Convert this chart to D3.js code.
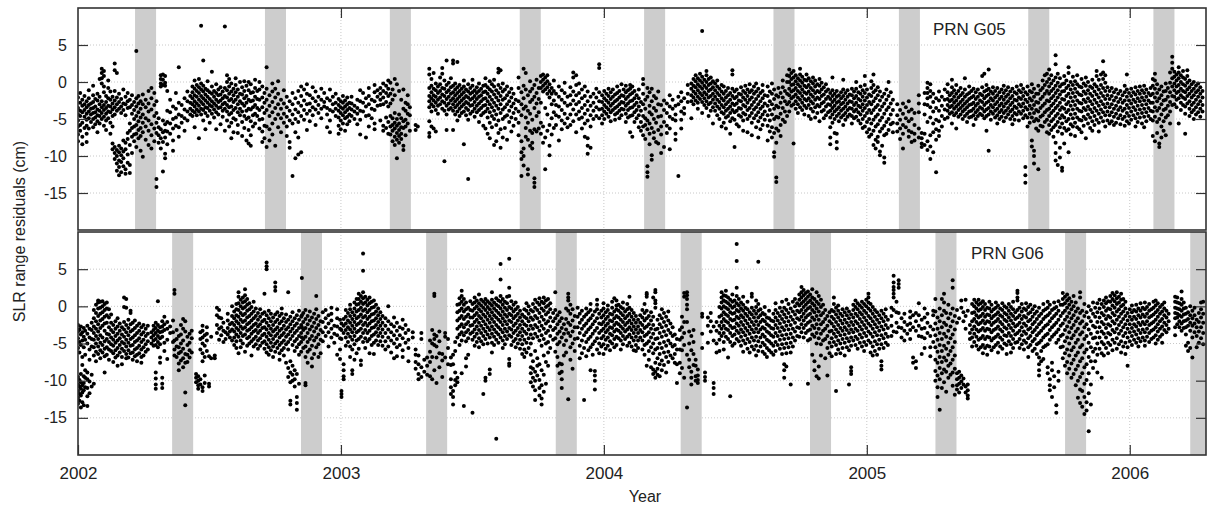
<!DOCTYPE html>
<html>
<head>
<meta charset="utf-8">
<script src="https://cdn.jsdelivr.net/npm/d3@7"></script>
<style>
  body { margin: 0; background: #fff; }
  text { font-family: "Liberation Sans", Arial, Helvetica, sans-serif; fill: #222; }
</style>
</head>
<body>
<svg id="chart" width="1209" height="506"></svg>
<script>
// Axis ticks
const yearTicks = [2002, 2003, 2004, 2005, 2006];
const residualTicks = [5, 0, -5, -10, -15];

// Eclipse seasons (start, decimal year); each lasts ~29 days
const eclipseLength = 0.08;
const g05Eclipses = [2002.217, 2002.711, 2003.186, 2003.680, 2004.153, 2004.645, 2005.122, 2005.614, 2006.090];
const g06Eclipses = [2002.358, 2002.848, 2003.324, 2003.817, 2004.292, 2004.784, 2005.261, 2005.754, 2006.230];

// SLR residuals (cm), grouped by day since 2002-01-01: "day:r1 r2 ..."
const g05Passes = [
"0:-2.1 -3.5 -4.4 -5.2 -6.0 -7.1 -8.0","3:-1.5 -2.8 -3.9 -4.6 -5.8 -6.6","6:-2.4 -3.2 -4.1 -5.5 -7.4 -8.4","9:-1.9 -3.0 -3.8 -4.7 -6.2",
"12:-2.6 -3.4 -4.3 -5.1 -5.9 -7.0 -8.1","15:-1.1 -2.2 -3.1 -4.0 -4.9 -6.3","18:-2.9 -3.6 -4.4 -5.4","21:-0.5 -1.8 -2.7 -3.5 -4.2 -5.0 -6.1",
"24:-2.3 -3.3 -4.1 -4.8 -5.7","27:-1.6 -2.5 -3.7 -4.5 -5.3 -6.8","30:0.4 -2.0 -3.0 -3.9 -4.6 -5.6","33:1.8 1.2 0.5 -0.2 -2.6 -3.4 -4.2 -5.0",
"36:1.5 0.8 -0.6 -1.4 -3.1 -3.8 -4.7 -5.9","39:-1.9 -2.7 -3.5 -4.3 -5.2 -6.5","42:0.2 -0.8 -2.2 -3.2 -4.0 -4.9","45:-1.3 -2.4 -3.3 -4.1 -5.5 -7.0",
"48:-2.0 -2.9 -3.7 -4.6 -6.0 -8.3 -9.1","51:2.5 1.6 -1.2 -2.5 -3.4 -4.4 -8.8 -9.6 -10.4","54:1.2 -2.1 -3.0 -3.9 -9.2 -10.0 -11.0 -12.0",
"57:-1.6 -2.7 -3.6 -8.6 -9.5 -10.6 -11.5 -12.6","60:-2.3 -3.3 -4.2 -9.0 -9.9 -10.8 -12.2","63:-1.0 -2.9 -3.8 -7.9 -9.4 -10.3 -11.4",
"66:-2.0 -3.0 -4.5 -8.2 -9.1 -11.8 -12.4","69:-1.5 -2.6 -3.5 -6.9 -7.7 -9.8 -10.9","72:-2.4 -3.4 -5.6 -6.6 -8.5 -11.2 -12.3","75:-1.8 -3.1 -4.3 -6.2 -7.4 -9.6",
"78:-2.7 -3.8 -5.0 -6.0 -7.1 -8.0","81:4.2 -2.2 -3.3 -4.6 -5.8 -7.0 -8.8","84:-1.9 -2.9 -4.1 -5.3 -6.5 -7.6","87:-2.6 -3.6 -4.8 -6.2 -7.3 -9.3",
"90:-1.7 -3.0 -4.4 -5.5 -6.8 -10.1","94:-2.4 -3.4 -4.9 -6.0 -7.8","98:-1.2 -2.9 -4.0 -5.2 -6.6 -8.5","102:-0.8 -2.2 -3.7 -5.7 -7.2 -9.0",
"106:-1.5 -3.1 -4.6 -6.3 -8.0","109:-13.1 -14.2 -2.6 -4.2 -5.5 -6.9","112:-4.9 -6.1 -7.2 -8.2","115:0.9 0.4 -0.2 -0.6 -6.4 -7.6 -9.0",
"118:1.0 0.3 -0.4 -5.2 -6.8 -8.1 -12.1","121:0.8 -0.1 -0.5 -5.7 -6.6 -7.5 -9.7 -10.3","124:-1.2 -3.9 -5.4 -6.7 -8.4","128:-2.4 -4.1 -5.6 -7.0",
"132:-3.3 -5.0 -6.3 -7.9 -9.3","136:-1.5 -3.6 -4.8 -5.9","140:2.0 -2.8 -4.4 -6.1 -7.4","144:-3.1 -4.6 -5.5","148:-2.2 -3.7 -4.9 -6.6",
"152:-1.3 -2.6 -4.0 -5.2","156:-1.9 -2.8 -3.6 -4.4","159:-0.6 -1.4 -2.2 -3.0 -3.9 -4.6","162:0.2 -0.9 -1.8 -2.6 -3.3 -4.1 -6.1",
"165:-0.4 -1.2 -2.0 -2.9 -3.7 -4.5","168:0.4 -0.7 -1.5 -2.4 -3.2 -4.0 -7.6","171:7.6 -0.2 -1.0 -1.9 -2.7 -3.6 -4.4","174:2.9 -0.5 -1.3 -2.2 -3.0 -3.8 -5.2",
"177:-0.9 -1.7 -2.5 -3.4 -4.2 -6.4","180:0.1 -1.1 -2.0 -2.8 -3.5 -4.6","183:-1.4 -2.3 -3.1 -3.9 -5.5","186:1.4 -0.6 -1.6 -2.6 -3.3 -4.3",
"189:-1.2 -2.0 -2.9 -3.7 -4.8","192:-0.3 -1.5 -2.4 -3.2 -4.1 -6.4","195:-1.0 -1.8 -2.7 -3.5 -4.4","198:-0.7 -1.7 -2.5 -3.4 -5.7",
"201:-1.3 -2.2 -3.0 -3.9 -4.7","204:7.5 -0.8 -1.9 -2.8 -3.6 -6.6","207:0.9 0.0 -1.1 -2.1 -3.1 -4.0 -5.2","210:0.4 -0.6 -1.6 -2.5 -3.4 -4.4 -6.0",
"213:-0.2 -1.3 -2.3 -3.3 -4.2 -5.5 -7.6","216:-0.9 -1.8 -2.7 -3.8 -4.9 -6.8","219:0.5 -0.4 -1.4 -2.4 -3.5 -5.1","222:-1.0 -2.0 -3.0 -4.1 -5.8 -6.9",
"225:0.0 -1.6 -2.6 -3.6 -4.5","228:-0.7 -1.7 -2.9 -4.0 -5.4 -7.3","231:0.1 -1.2 -2.2 -3.2 -4.6 -6.2","234:-0.5 -1.9 -2.8 -3.9 -5.0 -7.9",
"237:0.0 -1.1 -2.4 -3.6 -4.8 -6.5 -8.3","240:-0.3 -1.5 -2.6 -3.7 -5.3 -7.2 -8.6","243:-1.4 -2.5 -3.4 -4.5 -6.0","246:0.3 -0.8 -2.0 -3.1 -4.3 -5.6",
"249:-1.2 -2.3 -3.5 -4.6","252:0.0 -1.0 -2.4 -3.8 -5.1 -6.3","256:-0.6 -2.1 -3.4 -5.0 -6.7 -8.1","259:-1.5 -2.8 -4.2 -5.9 -7.6",
"262:2.0 -0.9 -2.4 -3.8 -6.0 -8.8","266:-1.8 -3.2 -4.6 -6.4 -7.9","270:-0.2 -1.3 -2.7 -4.1 -5.6 -7.1","274:-0.9 -2.1 -3.5 -5.0 -8.6",
"278:0.1 -1.6 -3.0 -4.4 -6.1","282:-2.4 -3.6 -4.9 -6.8","286:-1.1 -2.9 -4.3 -5.5","290:-2.0 -3.4 -4.7 -6.0 -7.3","294:-2.6 -3.9 -5.2 -8.1 -8.9",
"298:-12.7 -1.5 -3.0 -4.4 -5.6","302:-2.2 -3.7 -5.0 -6.8 -10.3","306:-1.2 -2.8 -4.1 -5.4 -7.5 -9.8","310:-0.6 -1.9 -3.2 -4.6 -9.5",
"314:-1.0 -2.5 -3.8 -5.1","318:-0.3 -1.6 -3.0 -4.3 -6.5","322:-1.8 -2.9 -3.9 -5.3","326:-0.7 -2.2 -3.4 -4.5","330:-1.3 -2.6 -3.7 -5.8",
"334:-2.0 -3.1 -4.2","338:-0.9 -2.4 -3.6 -4.9","342:-1.5 -2.7 -3.3","346:-2.2 -3.5 -4.4 -6.1","350:-1.0 -2.5 -3.8 -5.2 -6.8","354:-2.0 -3.0 -4.0",
"358:-1.6 -2.8 -3.6 -4.6","362:-2.3 -3.1 -3.9 -4.8 -5.9 -7.0","365:-2.6 -3.4 -4.2 -5.2 -6.4","368:-1.9 -2.8 -3.6 -4.5 -5.6",
"371:-2.5 -3.3 -4.1 -4.9 -6.6","374:-2.1 -3.0 -3.8 -4.7 -5.7","377:-2.8 -3.5 -4.4 -5.3","380:-2.0 -2.9 -3.7 -4.6","384:-3.2 -4.0 -5.0",
"388:-2.4 -3.5 -4.3 -5.7","392:-1.1 -2.6 -3.9 -5.1 -7.1","396:-1.5 -2.8 -4.0","400:-2.2 -3.3 -4.6 -7.5","404:-0.8 -1.9 -3.0 -4.5 -6.0",
"408:-2.4 -3.6 -4.9","412:-0.4 -1.4 -2.6 -3.8 -5.6 -6.4","416:-1.1 -2.0 -3.2","420:-0.8 -1.6 -2.4 -3.1 -5.2","424:-0.2 -1.2 -2.1 -3.0 -5.9 -6.6",
"428:-0.5 -1.5 -2.7 -4.8 -6.2","431:0.2 -0.9 -1.9 -3.3 -5.4 -7.0","434:-0.1 -1.6 -2.9 -4.6 -6.0 -7.1","437:-1.0 -2.4 -4.9 -5.8 -6.6 -8.0",
"440:0.4 -1.8 -4.2 -5.5 -6.3 -7.4 -8.5","443:-0.3 -5.0 -5.9 -6.9 -7.8 -10.3","446:-1.2 -4.4 -5.6 -6.5 -7.3 -8.2","449:-2.4 -4.9 -6.1 -7.0 -7.7",
"452:-1.0 -3.6 -5.3 -6.2 -8.6 -9.2","455:-2.8 -3.9 -5.1 -6.0 -7.2","458:-1.8 -3.0 -4.3 -5.6","461:-3.4 -4.5 -6.6","469:-5.8 -6.5","472:-6.0",
"488:1.8 1.0 -0.8 -1.9 -2.6 -3.4 -5.3 -6.9 -7.4","491:0.4 -0.5 -1.4 -2.2 -3.0 -4.0 -6.0","494:1.2 -0.9 -1.8 -2.5 -3.3 -6.3","497:-0.2 -1.1 -2.0 -2.8 -3.8 -6.7",
"500:-0.6 -1.5 -2.4 -3.2 -4.3","503:0.6 -0.3 -1.2 -2.1 -3.0","506:1.9 1.1 -0.8 -1.7 -2.6 -3.6","509:0.2 -0.9 -1.9 -2.8 -3.9 -10.7",
"512:2.9 -0.4 -1.4 -2.3 -3.2 -4.4 -6.5","515:-0.1 -1.1 -2.0 -2.9 -3.7","518:0.5 -0.7 -1.6 -2.5 -3.5","521:2.9 2.5 -0.5 -1.4 -2.2 -3.0 -3.9 -6.5",
"524:-0.2 -1.0 -1.8 -2.6 -3.4 -4.4","527:2.7 -0.7 -1.5 -2.3 -3.1 -4.0 -5.2","530:-0.4 -1.2 -2.0 -2.8 -3.6 -4.6","533:-0.9 -1.7 -2.5 -3.3 -4.2",
"536:0.2 -0.6 -1.4 -2.2 -3.0 -4.0 -8.4","539:-1.0 -1.9 -2.7 -3.5 -4.5","542:-13.1 -0.3 -1.3 -2.1 -2.9 -3.8 -5.1","545:-0.8 -1.6 -2.4 -3.2 -4.3",
"548:0.3 -0.5 -1.4 -2.2 -3.1 -4.0","551:-1.1 -1.9 -2.7 -3.6 -4.7","554:-0.7 -1.5 -2.3 -3.2 -4.1","557:-0.2 -1.2 -2.0 -2.9 -3.8 -5.4",
"560:-0.9 -1.8 -2.6 -3.5 -4.5","563:-0.5 -1.4 -2.3 -3.2 -4.2 -5.9","566:0.5 -0.4 -1.3 -2.2 -3.1 -4.0 -6.3","569:-0.7 -1.6 -2.6 -3.6 -4.8 -7.0",
"572:0.1 -1.0 -2.0 -3.0 -4.1 -5.5 -7.6","575:-0.3 -1.3 -2.4 -3.4 -4.6 -6.1","578:0.3 -0.6 -1.7 -2.8 -3.9 -5.0 -8.5","581:-1.1 -2.1 -3.2 -4.4 -5.8 -8.0",
"584:1.8 1.3 -0.4 -1.5 -2.5 -3.6 -5.2 -6.9","587:1.6 -0.8 -1.9 -3.0 -4.2 -6.4 -8.9","590:-0.2 -1.3 -2.4 -3.7 -5.0 -7.5","593:-1.0 -2.2 -3.4 -4.7 -6.2",
"596:-0.6 -1.8 -3.0 -4.5 -7.8","599:-1.4 -2.6 -3.9 -5.4","602:-0.9 -2.1 -3.3 -4.8 -6.7","605:-1.6 -2.9 -4.2 -5.9","608:-2.4 -3.6 -5.0",
"612:0.6 -0.8 -2.6 -4.0 -5.5 -7.2","616:-1.4 -3.0 -4.5 -8.0 -9.5 -10.4 -12.7","619:1.8 -0.5 -2.2 -3.6 -9.0 -10.0 -11.3","622:1.2 -1.0 -3.3 -4.8 -6.2 -7.4",
"625:-1.8 -3.9 -5.5 -7.8 -11.8 -12.5","628:0.1 -1.3 -2.7 -4.3 -6.6 -8.6","631:-0.9 -2.4 -5.1 -6.9 -8.2 -9.0","634:-0.4 -2.0 -3.5 -6.4 -13.0 -13.6 -14.2",
"637:0.3 -1.5 -2.9 -4.6 -6.7","640:-0.8 -2.3 -4.1 -6.3","643:0.8 0.0 -0.8 -2.8 -5.5 -7.0","646:1.0 0.3 -0.5 -1.3 -6.0 -8.2","649:0.6 -0.2 -1.0 -3.5 -7.5 -11.8",
"652:0.9 0.1 -0.7 -1.6 -4.4 -6.6","655:-0.3 -1.2 -2.1 -5.8 -8.6 -9.9","658:-0.8 -1.6 -3.0 -4.9 -7.1","661:0.2 -1.2 -2.5 -4.1 -6.2","664:-1.6 -3.1 -4.5 -5.8",
"668:-0.6 -2.0 -3.3 -4.7 -7.9","672:-1.1 -2.4 -3.8 -5.2 -6.4","676:-0.1 -1.5 -2.8 -4.3 -5.6","680:-2.0 -3.2 -4.9 -6.1","684:-0.7 -1.8 -3.0 -4.4 -5.8",
"688:1.3 0.6 -1.3 -2.5 -3.7 -5.3","692:0.9 -0.4 -1.8 -3.0 -4.4 -6.8","696:-0.2 -1.5 -2.7 -4.0 -5.0","700:-1.0 -2.2 -3.5 -4.8 -6.3","704:-0.6 -1.9 -3.1 -4.3 -5.6 -7.4",
"708:-1.3 -2.6 -3.8 -5.2 -7.6 -8.6 -9.7","712:-2.0 -3.2 -4.5 -6.0 -8.9","716:-1.6 -2.8 -3.9 -5.0","720:-0.9 -2.1 -3.4 -4.6","724:2.4 1.9 -1.4 -2.6 -3.7 -4.9",
"728:-1.8 -2.7 -3.6 -4.5 -5.6","731:-1.2 -2.2 -3.1 -4.0 -5.0","734:-1.6 -2.5 -3.4 -4.3","737:-0.9 -1.9 -2.8 -3.7 -4.7","740:-1.4 -2.3 -3.2 -4.1 -5.3",
"743:-1.0 -2.0 -2.9 -3.8","746:-1.7 -2.6 -3.5 -4.4 -5.1","749:-0.6 -1.5 -2.4 -3.3 -4.2","752:-1.2 -2.1 -3.0 -3.9 -4.9","755:-0.3 -1.8 -2.7 -3.6 -4.5",
"758:-1.0 -1.9 -2.8 -3.7","761:-0.5 -1.4 -2.3 -3.2 -4.3 -5.4","764:-1.1 -2.0 -2.9 -3.8 -4.8","767:-0.4 -0.9 -1.7 -2.6 -3.5 -4.6 -6.8","770:-0.6 -1.5 -2.5 -3.4 -4.5 -7.4",
"773:-1.2 -2.2 -3.1 -4.1 -5.4","776:-1.8 -2.8 -3.8 -4.9","779:-1.0 -2.2 -3.3 -4.5 -6.1","782:-2.7 -3.9 -5.4 -6.6","785:0.4 -0.3 -1.6 -3.0 -4.6 -6.0 -7.2",
"788:-2.4 -3.6 -4.9 -5.8 -7.7","791:-0.8 -2.0 -5.2 -6.4 -11.4 -12.2 -12.8","794:-1.4 -3.2 -4.1 -5.6 -7.0 -8.4","797:-0.9 -2.6 -4.4 -6.2 -9.9 -10.5",
"800:-1.9 -3.5 -5.0 -6.8 -7.6","803:-2.2 -3.9 -5.5 -8.1","806:-1.3 -3.0 -4.7 -6.5 -8.3","810:-3.1 -4.6 -6.0 -7.1 -9.6","814:-2.5 -3.8 -5.4 -8.8",
"818:-2.9 -4.2 -5.9 -6.9","822:-1.8 -3.3 -4.7 -6.3 -9.1","826:-2.4 -3.6 -5.0","830:-3.2 -4.4 -5.2 -7.0 -7.8","834:-12.7 -2.0 -3.0","838:-1.4 -2.6 -4.0 -5.1 -6.3",
"842:-2.2 -3.5 -4.3","847:-0.4 -1.6 -2.7","852:-0.2 -0.9 -1.8 -2.6 -4.9","855:0.4 -0.5 -1.3 -2.1 -3.0","858:0.9 0.1 -0.7 -1.6 -2.5","861:0.5 -0.3 -1.1 -2.0 -2.8 -3.6",
"864:1.1 0.2 -0.6 -1.5 -2.3","867:6.9 0.7 -0.1 -0.9 -1.8 -2.7 -4.2","870:0.3 -0.5 -1.4 -2.2 -3.1","873:1.5 0.9 0.0 -0.8 -1.7 -2.6 -3.5","876:0.4 -0.4 -1.2 -2.1 -3.0 -4.6",
"879:0.6 -0.2 -1.0 -1.9 -2.8 -3.9","882:0.1 -0.7 -1.6 -2.4 -3.4 -5.6","885:-0.2 -1.1 -2.0 -2.9 -3.9","888:0.2 -0.6 -1.5 -2.4 -3.3 -4.5","891:-0.9 -1.8 -2.7 -3.6 -5.0",
"894:-0.4 -1.3 -2.2 -3.1 -4.1 -6.0","897:-0.6 -1.6 -2.5 -3.4 -4.3 -5.5","900:-1.2 -2.1 -3.0 -3.9 -4.8 -6.3","903:-0.8 -1.8 -2.7 -3.6 -4.6","906:-1.5 -2.4 -3.3 -4.2 -5.3 -7.0",
"909:1.6 1.0 -0.9 -1.9 -2.9 -3.8 -4.9","912:-1.3 -2.2 -3.1 -4.1 -5.1 -8.8","915:-1.0 -2.0 -2.9 -3.9 -5.7","918:-1.6 -2.5 -3.5 -4.5 -6.0","921:-0.7 -1.7 -2.6 -3.6 -4.7",
"924:-1.2 -2.1 -3.1 -4.2 -5.2 -6.6","927:-0.5 -1.5 -2.4 -3.3 -4.4","930:-1.0 -1.9 -2.8 -3.8 -5.0 -6.8","933:-0.3 -1.4 -2.4 -3.5 -4.6","936:-1.1 -2.1 -3.1 -4.2 -5.5 -7.2",
"939:-0.6 -1.6 -2.7 -3.7 -4.9","942:-0.2 -1.3 -2.3 -3.4 -4.5 -6.1","945:-0.9 -1.9 -3.0 -4.1 -5.3 -7.5","948:-1.5 -2.6 -3.6 -4.8 -6.4","951:-0.4 -1.2 -2.2 -3.3 -4.4 -5.8",
"954:-1.8 -2.9 -4.0 -5.1","958:-0.6 -1.9 -3.2 -4.5 -5.9 -7.9","961:-1.3 -2.6 -3.8 -5.2 -6.7","964:-0.2 -1.6 -3.0 -4.4 -6.1 -7.5","967:-1.0 -2.3 -3.6 -5.0 -6.9 -9.5 -10.1",
"970:-1.8 -3.2 -4.7 -6.3 -8.2 -12.9 -13.5","973:-0.8 -2.0 -3.4 -4.8 -6.6","976:-1.5 -2.8 -4.3 -5.8 -7.3","979:0.2 -0.7 -2.1 -3.5 -5.1","982:-1.2 -2.6 -4.0 -5.4",
"985:0.9 0.0 -1.6 -3.0 -4.6","988:1.7 0.8 0.0 -0.9 -1.8 -2.7 -4.0","991:1.2 0.4 -0.4 -1.3 -2.2 -3.2","994:1.5 0.6 -0.3 -1.1 -2.0 -3.0 -8.3","997:0.9 0.1 -0.8 -1.7 -2.6 -3.6",
"1000:0.5 -0.3 -1.2 -2.1 -3.0 -4.2","1003:1.8 1.0 0.2 -0.6 -1.5 -2.4 -3.4","1006:0.7 -0.1 -1.0 -1.9 -2.8 -3.8","1009:0.3 -0.5 -1.4 -2.3 -3.2 -4.4","1012:1.0 0.2 -0.7 -1.6 -2.5 -3.5",
"1015:0.5 -0.4 -1.3 -2.2 -3.1 -4.6","1018:0.1 -0.8 -1.7 -2.6 -3.6 -5.0","1021:0.6 -0.2 -1.1 -2.0 -2.9 -4.0","1024:0.2 -0.6 -1.5 -2.4 -3.4 -4.8","1027:-0.3 -1.2 -2.1 -3.1 -4.2",
"1030:0.4 -0.5 -1.4 -2.3 -3.3 -5.3","1033:-0.1 -1.0 -1.9 -2.9 -4.0","1036:-0.7 -1.7 -2.7 -3.8 -4.9","1039:-0.3 -1.3 -2.3 -3.3 -4.5","1042:-1.0 -2.0 -3.0 -4.1",
"1045:-1.5 -2.3 -3.1 -3.9 -4.8 -6.1 -7.5 -8.4","1048:0.6 -1.1 -1.9 -2.7 -3.5 -4.4 -5.5","1051:-1.6 -2.4 -3.2 -4.0 -5.0 -6.9","1054:-1.2 -2.0 -2.8 -3.7 -4.6 -7.0 -8.1 -9.0",
"1057:-1.8 -2.6 -3.4 -4.3 -5.3","1060:-1.4 -2.2 -3.0 -3.9 -4.8","1063:0.3 -1.0 -1.9 -2.8 -3.6 -4.5 -5.8","1066:-1.5 -2.4 -3.3 -4.2 -5.1","1069:-1.1 -2.0 -2.9 -3.8 -4.7",
"1072:-1.7 -2.6 -3.5 -4.4","1075:-0.9 -1.8 -2.7 -3.6 -4.6 -5.6","1078:-1.3 -2.2 -3.1 -4.0 -4.9","1081:0.0 -0.9 -1.9 -2.8 -3.7 -4.7","1084:-1.4 -2.3 -3.2 -4.1 -5.2",
"1087:-0.6 -1.6 -2.5 -3.4 -4.4 -5.6","1090:-1.1 -2.0 -3.0 -3.9 -5.0 -6.2","1093:0.8 -0.4 -1.5 -2.5 -3.5 -4.6 -6.0","1096:-1.0 -2.1 -3.1 -4.2 -5.4 -6.8",
"1099:-1.7 -2.7 -3.8 -5.0 -6.4 -7.4","1102:0.1 -0.8 -1.9 -3.0 -4.2 -5.6 -7.1","1105:1.0 -0.4 -1.4 -2.6 -3.8 -5.1 -6.6 -8.5","1108:-1.1 -2.2 -3.4 -4.7 -6.0 -7.8 -9.0",
"1111:-0.7 -1.8 -3.1 -4.4 -5.7 -7.4 -8.1","1114:-1.3 -2.5 -3.8 -5.2 -6.7 -9.4 -9.9","1117:-2.0 -3.3 -4.8 -6.3 -8.6","1120:-1.6 -2.9 -4.3 -5.9 -7.2 -10.2 -10.9",
"1123:-1.0 -2.4 -3.8 -5.4 -7.0","1126:0.0 -1.9 -3.4 -5.0 -6.5","1129:-1.4 -2.9 -4.4 -5.7","1132:-2.4 -3.8 -5.5 -6.8","1138:-3.0 -4.5 -5.6 -6.7","1142:-3.8 -5.1 -6.3 -7.7",
"1146:-9.0 -2.9 -4.3 -5.8 -7.0","1150:-3.4 -4.9 -6.1","1154:-2.6 -4.0 -5.3 -6.6 -7.4","1158:-3.7 -5.0 -6.8 -8.1","1162:-4.2 -5.8 -7.0 -7.9","1168:-1.8 -2.9 -4.1 -6.3 -7.5",
"1172:-6.9 -7.6 -8.3 -8.8","1176:-1.5 -3.0 -4.4 -7.0 -8.5","1180:-0.1 -0.8 -1.5 -2.2 -3.1 -5.4 -8.0 -9.2","1184:-0.3 -1.2 -2.0 -3.4 -4.8 -7.2 -8.7 -10.4",
"1188:-1.6 -2.7 -4.0 -5.6 -6.8 -9.5","1192:-2.2 -3.5 -5.1 -6.4 -7.8 -12.2","1196:-1.3 -2.5 -3.9 -5.3 -6.6 -7.3","1200:-2.0 -3.2 -4.6 -6.0","1204:-1.0 -2.4 -3.7 -5.0",
"1208:-0.3 -1.4 -2.3 -3.1 -3.9 -4.8","1211:-1.8 -2.6 -3.4 -4.3","1214:0.3 -0.7 -1.5 -2.4 -3.2 -4.1 -5.6","1217:-1.1 -2.0 -2.8 -3.6 -4.5","1220:-0.4 -1.6 -2.5 -3.3 -4.2 -6.3",
"1223:-1.2 -2.1 -3.0 -3.8 -4.7","1226:-0.8 -1.8 -2.7 -3.5 -4.4","1229:-1.5 -2.4 -3.2 -4.0 -5.0","1232:0.5 -1.0 -2.0 -2.9 -3.7 -4.6","1235:-1.7 -2.6 -3.4 -4.3 -5.4",
"1238:-0.6 -1.5 -2.3 -3.1 -4.0 -4.8","1241:-1.2 -2.1 -3.0 -3.9 -4.7","1244:-0.9 -1.9 -2.8 -3.6 -4.5 -5.8","1247:-1.4 -2.3 -3.2 -4.1 -5.0","1250:-1.0 -2.0 -2.9 -3.8 -4.6",
"1253:-1.6 -2.5 -3.4 -4.3","1256:0.8 -0.7 -1.8 -2.7 -3.6 -4.5","1259:1.1 -1.3 -2.2 -3.1 -4.0 -4.9","1262:-0.4 -1.1 -1.9 -2.8 -3.7 -4.6 -6.6","1265:1.7 -0.9 -1.7 -2.6 -3.5 -4.4 -9.3",
"1268:-1.3 -2.2 -3.1 -4.0 -5.1","1271:-0.7 -1.6 -2.5 -3.4 -4.3","1274:-1.2 -2.1 -3.0 -3.9 -4.8","1277:-0.8 -1.8 -2.7 -3.6 -4.5 -5.6","1280:-1.4 -2.3 -3.2 -4.1 -5.0",
"1283:-1.0 -2.0 -2.9 -3.8 -4.7","1286:-0.5 -1.5 -2.4 -3.3 -4.2 -5.3","1289:-1.1 -2.0 -2.9 -3.9 -4.8","1292:-0.7 -1.7 -2.6 -3.5 -4.4","1295:-1.3 -2.2 -3.1 -4.0 -5.0",
"1298:-0.9 -1.9 -2.8 -3.7 -4.6 -5.7","1301:-1.4 -2.4 -3.3 -4.2 -5.1","1304:-0.6 -1.6 -2.5 -3.5 -4.4","1307:-1.1 -2.1 -3.0 -4.0 -5.2","1310:-0.4 -1.4 -2.3 -3.3 -4.3",
"1313:-0.9 -1.9 -2.9 -3.9 -4.9","1316:-11.5 -12.6 -13.6 -1.4 -2.4 -3.4 -4.5","1319:-0.6 -1.7 -2.7 -3.7 -4.8 -6.0","1322:-1.2 -2.2 -3.2 -4.3 -5.5",
"1325:-0.3 -1.4 -2.5 -3.6 -4.8 -7.9 -8.7","1328:-0.9 -2.0 -3.1 -4.2 -5.3 -9.3 -10.0 -11.0","1331:-1.6 -2.7 -3.8 -5.0 -6.3","1334:-0.5 -1.6 -2.8 -4.0 -5.2 -6.6 -11.8",
"1337:-1.1 -2.3 -3.5 -4.7 -5.9","1340:0.2 -0.8 -2.0 -3.2 -4.5 -6.0","1343:0.9 -0.4 -1.6 -2.9 -4.1 -5.4","1346:1.1 0.0 -1.2 -2.5 -3.8 -5.1 -6.8",
"1349:1.7 0.4 -0.6 -1.6 -2.6 -3.6 -4.6 -5.8 -7.0","1352:0.9 -0.2 -1.2 -2.2 -3.2 -4.2 -5.3 -6.5","1355:0.2 -0.9 -1.9 -2.9 -3.9 -5.0 -6.1 -7.4",
"1358:3.6 2.4 0.6 -0.5 -1.5 -2.5 -3.5 -4.6 -5.8 -8.2 -9.6 -10.6","1361:1.1 -0.1 -1.1 -2.1 -3.2 -4.3 -5.4 -6.7 -11.2","1364:0.5 -0.6 -1.7 -2.8 -3.8 -4.9 -6.1 -8.9 -10.2",
"1367:-0.3 -1.3 -2.3 -3.4 -4.5 -5.6 -7.0 -11.6 -12.0","1370:0.8 -0.2 -1.2 -2.4 -3.6 -4.8 -6.2 -8.3","1373:0.2 -0.8 -1.9 -3.0 -4.1 -5.3 -6.6",
"1376:2.0 1.2 -0.5 -1.6 -2.7 -3.8 -5.0 -6.4 -9.5","1379:0.0 -1.0 -2.1 -3.2 -4.4 -5.7 -7.1","1382:0.7 -0.4 -1.5 -2.6 -3.7 -4.9 -6.0","1385:0.1 -0.9 -2.0 -3.1 -4.3 -5.5 -7.3",
"1388:0.9 -0.3 -1.4 -2.5 -3.6 -4.8 -6.1","1391:-0.6 -1.7 -2.8 -3.9 -5.1 -6.4","1394:0.4 -0.7 -1.8 -2.9 -4.0 -5.2 -6.8","1397:-0.2 -1.3 -2.4 -3.5 -4.7 -5.9",
"1400:0.6 -0.5 -1.6 -2.7 -3.8 -5.0 -7.6","1403:0.0 -1.1 -2.2 -3.3 -4.4 -5.6","1406:-0.6 -1.6 -2.6 -3.7 -4.8 -6.2","1409:0.3 -0.8 -1.9 -3.0 -4.1 -5.3 -6.6",
"1412:-0.3 -1.3 -2.4 -3.5 -4.6 -5.8","1415:1.5 0.8 -0.6 -1.7 -2.8 -3.9 -5.1","1418:0.3 -1.0 -2.1 -3.2 -4.3 -5.5 -6.7","1421:1.0 -0.4 -1.5 -2.6 -3.7 -4.8",
"1424:2.8 1.3 0.4 -0.8 -1.9 -3.0 -4.1 -5.3","1427:0.9 -0.1 -1.2 -2.3 -3.4 -4.5 -6.0","1430:-0.7 -1.8 -2.9 -4.0 -5.2","1433:-1.2 -2.3 -3.4 -4.5 -5.6",
"1436:-0.8 -1.9 -3.0 -4.1 -5.3","1439:-1.4 -2.5 -3.6 -4.7 -5.8","1442:-1.0 -2.1 -3.2 -4.3 -5.5","1445:-1.6 -2.7 -3.8 -4.9","1448:-1.2 -2.3 -3.4 -4.5 -5.7",
"1451:-1.8 -2.8 -3.9 -5.0","1454:-0.5 -1.4 -2.5 -3.6 -4.7 -5.9","1457:1.0 -1.0 -2.0 -3.1 -4.2 -5.3","1460:-1.5 -2.5 -3.5 -4.6 -5.6","1463:-0.9 -1.9 -2.9 -4.0 -5.1",
"1466:-1.4 -2.4 -3.4 -4.5","1469:-0.7 -1.7 -2.7 -3.8 -4.9 -6.0","1472:-1.2 -2.2 -3.2 -4.3 -5.4","1475:-0.6 -1.6 -2.6 -3.7 -4.8","1478:-1.1 -2.1 -3.1 -4.2 -5.6",
"1481:-0.5 -1.5 -2.5 -3.6 -4.7 -6.1","1484:-1.0 -2.0 -3.0 -4.1 -5.3","1487:-1.5 -2.5 -3.5 -4.6","1490:-0.8 -1.8 -2.8 -3.9 -5.0","1493:0.4 -0.5 -1.6 -2.8 -4.0 -5.2 -7.3",
"1496:1.1 0.2 -0.9 -2.1 -3.4 -4.7 -8.0","1499:-0.3 -1.5 -2.6 -3.9 -5.4 -6.9","1502:-1.0 -2.2 -3.5 -5.0 -8.3 -8.8","1505:-0.6 -1.8 -3.0 -4.4 -6.0 -7.5",
"1508:-1.3 -2.5 -3.8 -5.3 -6.6","1511:-0.2 -1.2 -2.4 -3.6 -4.8 -7.2","1514:-0.8 -2.0 -3.2 -4.5","1517:1.3 -0.1 -1.4 -2.7 -4.0 -5.6","1520:3.4 2.6 1.8 0.5 -0.6 -1.9 -3.1",
"1523:1.4 0.7 -0.2 -1.1 -2.0 -3.0","1526:1.0 0.2 -0.6 -1.5 -2.4 -3.4","1529:2.0 1.3 0.5 -0.4 -1.3 -2.2 -5.6","1532:0.9 0.0 -0.9 -1.8 -2.8 -3.8",
"1535:1.5 0.6 -0.3 -1.2 -2.1 -3.1","1538:0.4 -0.5 -1.4 -2.3 -3.3 -4.3 -7.0","1541:1.6 0.8 -0.1 -1.0 -1.9 -2.9","1544:0.2 -0.7 -1.6 -2.6 -3.6 -4.6",
"1547:-0.3 -1.2 -2.1 -3.1 -4.1","1550:0.0 -0.9 -1.8 -2.8 -3.8 -5.0","1553:-0.5 -1.4 -2.4 -3.4 -4.4","1556:-0.2 -1.1 -2.0 -3.0 -4.1","1559:-0.7 -1.6 -2.6 -3.6 -4.7",
"1562:-1.2 -2.1 -3.1 -4.0"
];

const g06Passes = [
"0:-2.5 -3.4 -4.3 -5.6 -9.5 -10.5 -11.4 -12.3 -13.1","2:-3.1 -4.8 -6.2 -9.9 -10.8 -11.8 -12.7","4:-2.7 -3.8 -5.2 -9.1 -10.2 -11.1 -12.0 -13.6",
"6:-3.5 -4.6 -6.8 -7.9 -10.6 -11.6 -12.9","8:-2.9 -4.1 -5.5 -9.4 -10.3 -11.3 -13.3","10:-3.3 -4.5 -6.5 -8.6 -9.6 -10.9","13:-2.6 -3.7 -5.0 -8.9 -9.8 -11.0 -12.1 -13.4",
"16:-3.0 -4.2 -5.8 -7.2 -10.1 -11.7","19:-2.2 -3.2 -4.4 -5.4 -9.2 -10.8","22:-0.5 -1.6 -2.7 -3.6 -4.5 -5.5 -6.6 -10.4","25:0.2 -0.9 -2.0 -3.0 -4.0 -5.0 -6.1 -7.4",
"28:0.8 0.5 -0.3 -1.3 -2.4 -3.4 -4.4 -5.4 -6.4","31:0.6 -0.2 -1.0 -1.9 -2.9 -3.9 -4.9 -5.9 -7.0","34:0.7 0.0 -0.8 -1.7 -2.6 -4.2 -5.2 -6.2",
"37:0.3 -0.5 -1.4 -2.3 -3.3 -4.7 -5.7 -6.7 -8.9","40:0.5 -0.3 -1.2 -2.2 -3.7 -4.4 -5.5 -6.5","43:-0.4 -1.5 -2.8 -3.8 -4.8 -5.8 -7.2","46:-1.1 -2.2 -3.2 -4.2 -5.1 -6.0",
"49:-2.5 -3.5 -4.5 -5.3 -6.3 -7.5","52:-2.0 -3.0 -4.0 -4.9 -5.9 -6.9","55:-1.6 -2.7 -3.7 -4.6 -5.6 -6.6 -8.0","58:-2.3 -3.3 -4.3 -5.2 -6.2","61:-2.8 -3.8 -4.8 -5.7 -6.8 -7.8",
"64:1.2 -0.1 -2.1 -3.1 -4.1 -5.0 -6.0","67:1.0 -0.2 -2.5 -3.5 -4.5 -5.4 -6.4 -7.0","70:-1.8 -2.9 -3.9 -4.9 -5.9 -6.9","73:-0.6 -0.9 -2.4 -3.4 -4.4 -5.3 -6.3",
"76:-2.2 -3.2 -4.2 -5.2 -6.2 -7.2","79:-1.9 -2.9 -3.9 -4.8 -5.8 -6.7","82:-2.6 -3.6 -4.6 -5.6 -6.5 -7.4","85:-2.3 -3.3 -4.3 -5.3 -6.3","88:-2.8 -3.8 -4.8 -5.8 -6.8 -7.6",
"91:-2.5 -3.5 -4.5 -5.5 -6.6","94:-3.0 -4.0 -5.1 -6.1","97:-2.6 -3.7 -4.7 -5.8","102:-3.5 -4.2 -5.0","105:-2.6 -3.2 -3.9 -4.6 -5.3","108:-2.2 -2.9 -3.6 -4.4 -5.2 -8.9 -9.7 -10.5 -11.1",
"111:0.7 -2.5 -3.3 -4.0 -4.8 -5.5","114:-2.8 -3.5 -4.3 -5.1 -6.9 -7.6","117:-2.0 -2.7 -3.4 -4.1 -9.6 -10.4 -11.0","120:-1.4 -2.4 -3.2 -4.9 -6.0","124:-2.1 -3.0 -4.5 -7.1",
"128:-2.7 -3.6","132:-1.9 -3.5 -4.8","134:2.2 1.7 -4.6 -5.8 -6.6","137:-3.2 -4.4 -5.4 -6.8","140:-4.0 -5.5 -6.3 -7.7 -8.6","143:-2.5 -3.8 -5.0 -6.1 -7.3",
"146:-1.7 -3.0 -4.6 -5.7 -7.0 -8.2","149:-2.0 -3.4 -6.4 -7.6 -11.6 -13.3","152:-4.1 -5.2 -6.5 -7.5","155:-3.7 -4.9 -5.9 -6.9","158:-3.3 -4.3 -6.2","164:-9.1 -9.6 -10.2",
"167:-9.4 -10.0 -10.6 -11.1","170:-3.5 -4.4 -5.8 -9.8 -10.5","173:-2.6 -3.3 -4.2 -5.0 -6.3 -7.4 -10.9 -11.4","176:-3.9 -5.3 -6.8 -9.3 -10.3","179:-2.8 -3.7 -4.6 -6.0",
"182:-6.7 -10.4 -10.8","185:-4.1 -7.0","190:-6.6 -7.0","193:-0.2 -1.2 -2.5 -3.6","196:-0.5 -1.5 -3.0 -4.5","199:-1.6 -2.8 -3.9","202:-2.2 -3.3 -4.8","205:-3.5 -4.4",
"208:-1.0 -1.9 -2.9 -3.8","211:-2.4 -3.4 -4.2","214:0.0 -1.3 -2.2 -3.1 -4.6","217:-0.7 -1.6 -2.5 -3.4 -4.2 -5.2","220:0.3 -0.4 -1.2 -2.0 -2.9 -3.8 -4.7 -5.6",
"223:1.9 1.3 0.4 -0.5 -1.4 -2.3 -3.2 -4.1 -6.3","226:0.9 0.0 -0.9 -1.8 -2.7 -3.6 -4.6 -5.5","229:1.2 0.5 -0.3 -1.2 -2.1 -3.0 -4.0 -5.0",
"232:2.3 1.5 0.7 -0.1 -1.0 -1.9 -2.8 -3.8 -6.1","235:1.0 0.2 -0.6 -1.5 -2.4 -3.3 -4.3 -5.3","238:0.4 -0.4 -1.3 -2.2 -3.1 -4.1 -5.0","241:-0.1 -1.0 -1.9 -2.8 -3.7 -4.7 -6.6",
"244:0.6 -0.7 -1.6 -2.5 -3.4 -4.4 -5.4","247:-0.3 -1.3 -2.3 -3.2 -4.1 -5.1","250:-0.9 -1.8 -2.7 -3.6 -4.6 -5.7","253:-0.4 -1.4 -2.4 -3.3 -4.3 -5.3","256:-1.0 -2.0 -2.9 -3.9 -4.9",
"259:1.7 -0.8 -1.8 -2.8 -3.7 -4.7 -5.7","262:5.9 5.4 5.0 -1.2 -2.2 -3.1 -4.1 -5.1 -6.2","265:-0.6 -1.6 -2.6 -3.6 -4.5 -5.5 -6.5","268:-1.0 -2.0 -3.0 -3.9 -4.9 -5.9",
"271:-1.5 -2.5 -3.4 -4.4 -5.4 -6.8","274:3.2 2.6 2.1 -1.1 -2.1 -3.1 -4.0 -5.0 -6.1","277:-0.8 -1.8 -2.8 -3.7 -4.7 -5.6","280:-1.3 -2.3 -3.3 -4.2 -5.2 -6.3 -7.2",
"283:-0.3 -1.0 -2.0 -3.0 -3.9 -4.9 -5.9","286:-1.6 -2.6 -3.6 -4.6 -5.6 -6.6","289:-1.1 -2.1 -3.1 -4.1 -5.1 -7.6","292:1.9 -1.8 -2.8 -3.8 -4.8 -5.8 -8.3 -9.5",
"295:-1.4 -2.4 -3.4 -4.4 -7.4 -8.9 -10.2 -12.7 -13.2","298:-0.8 -2.0 -3.0 -4.0 -5.2 -8.0 -9.2 -10.0","301:-1.6 -2.6 -3.6 -4.7 -6.0 -8.6 -9.8 -10.8",
"304:-1.2 -2.3 -3.3 -4.4 -5.5 -9.1 -12.2 -13.0 -13.9","307:-0.6 -1.8 -2.9 -4.0 -5.1 -6.5 -10.4","310:-1.4 -2.5 -3.6 -4.8 -6.1","311:3.8 -1.2 -2.8 -4.2",
"313:-0.9 -2.1 -3.2 -4.4 -5.6","316:-0.5 -1.7 -2.9 -4.1 -5.4 -6.8 -10.3 -10.6","319:-1.3 -2.4 -3.6 -4.8 -6.1 -7.6","322:-0.7 -1.9 -3.1 -4.4 -5.8",
"325:-1.5 -2.7 -4.0 -5.3 -7.0 -8.1","328:-1.0 -2.2 -3.4 -4.6 -6.4","331:1.4 -0.4 -1.7 -2.9 -4.2 -5.5","334:-1.3 -2.5 -3.8 -5.1 -6.8","337:-2.0 -3.2 -4.5 -6.3",
"340:-0.8 -2.1 -3.5 -4.7","344:-0.5 -1.6 -2.8 -4.0","348:-1.2 -2.3 -3.5 -5.4","352:-0.2 -1.0 -1.9 -3.0 -4.2","356:-2.6 -3.7 -4.9","360:-0.4 -1.6 -2.7 -3.9 -6.5",
"364:-1.8 -3.0 -4.3 -5.8 -7.1","366:-11.4 -11.8 -12.2 -2.3 -3.2 -4.4","369:-7.8 -8.6 -9.4 -9.8 -1.7 -2.6 -3.6","372:-0.5 -1.4 -2.3 -3.2 -4.2 -5.3",
"375:-0.9 -1.9 -2.8 -3.7 -4.8","378:0.2 -0.4 -1.3 -2.2 -3.1 -4.1 -5.4 -6.8","381:-9.1 -8.6 -0.8 -1.7 -2.6 -3.5 -4.5 -5.8","384:0.5 -0.3 -1.2 -2.1 -3.0 -4.0 -5.1 -7.2",
"387:1.0 0.2 -0.7 -1.6 -2.5 -3.5 -4.6 -6.3","390:1.7 1.0 0.3 -0.5 -1.4 -2.3 -3.3 -4.4 -5.7","393:1.4 0.6 -0.2 -1.1 -2.0 -3.0 -4.1 -7.3 -7.9",
"396:7.1 4.8 1.9 1.1 0.3 -0.6 -1.5 -2.5 -3.6 -4.8","399:1.3 0.5 -0.4 -1.3 -2.2 -3.2 -4.3 -5.6","402:0.9 0.1 -0.8 -1.7 -2.6 -3.6 -4.7","405:1.2 0.4 -0.5 -1.4 -2.3 -3.3 -4.4 -6.3",
"408:0.6 -0.2 -1.1 -2.0 -2.9 -4.0 -5.2","411:0.8 -0.1 -1.0 -1.9 -2.8 -3.8 -4.9 -6.4","414:0.2 -0.7 -1.6 -2.5 -3.5 -4.6","417:-0.3 -1.2 -2.1 -3.0 -4.0 -5.2",
"420:-0.8 -1.7 -2.6 -3.6 -4.7","423:-1.3 -2.2 -3.1 -4.1 -5.3","427:-1.6 -2.6 -3.6 -4.7 -5.8","431:0.0 -2.0 -3.1 -4.2 -5.4","435:-2.4 -3.5 -4.6 -6.2","439:-1.5 -2.7 -3.9 -5.0 -7.0",
"443:-2.2 -3.3 -4.4 -5.5 -6.7","447:-2.8 -3.9 -5.2","451:-1.8 -3.0 -4.3 -5.9 -6.8","455:-2.5 -3.6 -4.9","459:-3.2 -4.5 -5.6 -7.4","465:-3.5 -4.2","469:-5.8 -6.5 -7.5 -8.4",
"473:-6.6 -7.8 -9.1 -9.8","477:-3.6 -4.4 -8.2 -9.5","481:-7.2 -8.8","485:-6.9 -8.0 -9.2","489:-4.6 -6.1 -7.5 -9.4","492:-3.2 -5.0 -6.8 -9.8","495:1.7 1.4 -3.8 -4.4 -5.2 -8.6",
"498:-4.0 -5.4 -6.9 -10.3","502:-3.4 -4.7 -6.3 -8.2","506:-6.4 -7.3 -9.5","510:-3.6 -4.1 -6.9","514:-4.4 -5.6 -7.8","518:-6.9 -7.9 -9.8 -10.9 -11.8",
"521:-11.4 -12.2 -13.2 -6.5 -7.8","524:-4.8 -6.0 -8.9 -9.9 -10.6","527:0.2 -0.8 -1.9 -3.0 -4.2 -9.6 -10.2","530:1.1 0.3 -0.6 -1.6 -2.7 -3.8 -5.2",
"533:2.1 1.4 0.6 -0.3 -1.3 -2.4 -3.5 -4.6 -9.0","536:1.0 0.2 -0.7 -1.7 -2.8 -3.9 -13.4","539:0.5 -0.4 -1.4 -2.4 -3.5 -4.7 -7.0 -8.1","542:-0.2 -1.1 -2.1 -3.2 -4.3 -6.5",
"545:0.7 -0.5 -1.5 -2.6 -3.7","548:-14.3 0.3 -0.6 -1.5 -2.5 -3.5 -4.5","551:1.2 0.5 -0.3 -1.2 -2.1 -3.1 -4.1 -5.3","554:0.8 0.0 -0.9 -1.8 -2.7 -3.7 -4.8",
"557:1.6 0.4 -0.4 -1.3 -2.2 -3.2 -4.3 -5.5","560:0.9 0.1 -0.7 -1.6 -2.6 -3.6 -4.7","563:-11.8 0.6 -0.2 -1.1 -2.0 -3.0 -4.0 -5.1","566:-10.0 -9.6 1.0 0.3 -0.5 -1.4 -2.4 -3.4 -4.4",
"569:0.7 -0.1 -0.9 -1.8 -2.8 -3.8 -5.0","572:-9.1 -8.5 0.4 -0.4 -1.3 -2.2 -3.2 -4.2","575:1.9 0.9 0.1 -0.8 -1.7 -2.7 -3.7 -4.9 -6.2","578:0.5 -0.3 -1.2 -2.1 -3.1 -4.1 -5.2",
"581:-17.8 1.1 0.2 -0.6 -1.5 -2.5 -3.5 -4.5","584:0.8 0.0 -0.9 -1.8 -2.8 -3.8 -4.9","587:5.7 3.6 1.4 0.6 -0.3 -1.2 -2.1 -3.1 -4.2","590:1.0 0.2 -0.7 -1.6 -2.5 -3.5 -4.6 -5.6",
"593:0.6 -0.2 -1.1 -2.0 -3.0 -4.0 -5.1","596:1.3 0.4 -0.5 -1.4 -2.4 -3.4 -4.4","599:6.4 2.5 1.4 -0.1 -1.0 -1.9 -2.9 -3.9 -7.1 -7.7 -8.0","602:0.7 -0.3 -1.2 -2.1 -3.1 -4.1 -5.2",
"605:0.2 -0.7 -1.6 -2.6 -3.6 -4.7","608:0.5 -0.4 -1.3 -2.3 -3.3 -4.4 -5.5","611:-0.1 -1.0 -1.9 -2.9 -3.9 -5.0","614:-0.6 -1.5 -2.5 -3.5 -4.5 -5.7","617:-1.1 -2.0 -3.0 -4.0 -5.1 -6.4",
"620:-0.4 -1.4 -2.4 -3.4 -4.5 -5.8 -6.8","623:0.4 -0.6 -1.6 -2.6 -3.7 -4.9 -6.2","626:0.0 -1.0 -2.0 -3.1 -4.3 -5.6","629:-0.5 -1.5 -2.6 -3.8 -5.0 -6.5 -8.2 -9.0 -10.2",
"632:0.3 -0.7 -1.8 -3.0 -4.3 -7.4 -8.4 -9.6 -10.8","635:0.9 -0.2 -1.3 -2.5 -3.7 -6.0 -8.8 -10.0 -11.3 -12.6","638:0.5 -0.5 -1.6 -2.8 -4.1 -7.0 -8.0 -9.3",
"641:1.1 0.2 -0.9 -2.1 -3.3 -4.6 -7.8 -9.9 -11.0 -12.0","644:0.6 -0.3 -1.4 -2.6 -3.9 -5.3 -8.6 -10.6 -12.4 -13.2","647:1.2 0.4 -0.6 -1.8 -3.0 -4.4 -6.6 -9.2 -11.5",
"650:0.8 -0.1 -1.1 -2.3 -3.6 -5.0 -7.5 -10.4","653:1.0 0.1 -0.8 -2.0 -3.3 -4.8 -6.2 -8.0","656:0.4 -0.4 -1.5 -2.7 -4.0 -5.6","660:-0.9 -2.0 -3.2 -4.5",
"663:1.9 -0.5 -1.6 -2.9 -4.3 -6.1","666:-1.2 -2.4 -3.7 -5.1 -6.8 -8.0","669:-0.8 -2.0 -3.4 -4.8 -7.7 -9.0","672:-1.6 -2.9 -4.2 -7.8 -8.8 -9.8 -11.0","675:-2.4 -3.7 -5.2 -6.6",
"678:-0.3 -1.7 -3.1 -4.6 -6.2","681:1.7 1.2 0.8 -0.6 -2.2 -3.6 -12.5","684:0.2 -1.0 -2.5 -4.0 -5.5 -7.2","687:-0.4 -1.9 -3.4 -5.0 -8.4","690:-1.3 -2.8 -4.4 -6.0",
"694:-0.2 -1.4 -2.8 -4.3","697:-1.0 -2.2 -3.6 -5.3 -7.0","700:-0.6 -1.8 -3.0 -4.6 -6.3","703:-12.6 -1.4 -2.6 -3.9 -5.6","706:-0.3 -1.1 -2.3 -3.5 -4.8 -6.7",
"709:-0.8 -1.9 -3.1 -4.4 -5.9","712:0.3 -0.5 -1.6 -2.8 -4.1 -5.5 -8.6","715:-1.2 -2.4 -3.7 -5.1 -6.5","718:-0.7 -2.0 -3.3 -4.7 -8.7 -9.3 -10.0 -11.2",
"721:0.9 0.2 -0.4 -1.6 -2.9 -4.3 -5.8","724:-1.0 -2.3 -3.6 -5.0 -6.3","727:-0.6 -1.5 -2.4 -3.3 -4.3 -5.4","730:0.4 -0.3 -1.2 -2.1 -3.0 -4.0 -5.1 -6.4",
"733:-0.8 -1.7 -2.6 -3.5 -4.5 -5.7","736:0.1 -0.5 -1.4 -2.3 -3.2 -4.2 -5.3","739:-1.0 -1.9 -2.8 -3.7 -4.7 -5.9","742:0.6 -0.2 -1.1 -2.0 -2.9 -3.9 -5.0",
"745:1.1 -0.7 -1.6 -2.5 -3.4 -4.4 -5.5","748:0.8 0.1 -0.4 -1.3 -2.2 -3.1 -4.1 -5.2","751:0.2 -0.6 -1.5 -2.4 -3.3 -4.3","754:-0.1 -0.9 -1.8 -2.7 -3.6 -4.6 -5.8",
"757:0.5 -0.3 -1.2 -2.1 -3.0 -4.0 -5.1","760:-0.7 -1.6 -2.5 -3.4 -4.4","763:0.3 -0.4 -1.3 -2.2 -3.1 -4.1 -5.3","766:1.3 -0.2 -1.0 -1.9 -2.8 -3.8 -4.9",
"769:-0.5 -1.4 -2.3 -3.2 -4.2 -5.4","772:-0.9 -1.8 -2.7 -3.6 -4.6 -5.9","775:-1.3 -2.2 -3.1 -4.1 -5.2 -6.0","778:-1.8 -2.7 -3.6 -4.6 -5.6","781:-1.2 -2.2 -3.2 -4.2",
"784:-0.5 -1.5 -2.5 -3.5 -4.6 -5.8","787:0.3 -0.9 -1.9 -2.9 -4.0 -5.2 -6.5","790:1.8 1.6 1.3 -0.6 -1.6 -2.7 -3.8 -5.0 -8.0","793:-1.3 -2.4 -3.5 -4.7 -6.0 -7.2",
"796:-0.8 -1.9 -3.0 -4.2 -5.5 -8.2","799:1.2 -1.4 -2.5 -3.7 -5.0 -6.3 -8.5 -9.1","802:2.2 1.9 0.8 0.4 -0.2 -3.1 -4.4 -5.8 -7.6 -8.8 -9.6","805:-1.8 -3.0 -4.3 -5.6 -7.0 -8.4 -9.2",
"808:-1.2 -2.4 -3.6 -5.0 -6.4 -7.8 -9.4","811:-0.4 -1.6 -2.8 -4.1 -5.6 -7.3 -8.6","814:-0.9 -2.1 -3.4 -4.8 -6.2 -7.9","817:-1.4 -2.6 -3.9 -5.3 -6.8 -8.9",
"820:-0.7 -1.9 -3.2 -4.6 -6.1 -7.5","823:-2.3 -3.6 -5.0 -6.6","826:-2.8 -4.0 -5.4 -7.0","829:-3.8 -5.2 -6.4 -7.6","832:-4.4 -5.8 -7.8 -10.3","836:-3.2 -4.5 -5.8 -7.6 -9.0",
"839:-1.4 -2.8 -4.2 -5.9 -8.3","842:1.8 1.3 -2.1 -3.6 -5.2 -9.6","846:1.9 1.5 1.0 0.2 -0.4 -2.1 -6.5 -13.6","849:-3.4 -5.0 -7.2 -8.2","852:-4.0 -5.9 -8.8 -9.6 -10.5",
"855:-3.2 -4.8 -6.4 -7.9","858:-7.2 -8.0 -9.4 -10.0","861:-8.5 -9.3 -9.9 -10.3","867:-1.0 -1.4 -3.7 -5.6","871:-8.9 -9.5 -10.0","875:-1.5 -2.6 -4.9","879:-0.9 -2.0 -3.4",
"883:-10.3 -11.0 -11.8 -2.7 -4.6","887:-2.1 -3.3 -5.0 -6.2","891:-0.1 -1.4 -2.6 -3.6 -4.5 -6.0","894:1.9 1.2 0.5 -0.3 -1.2 -2.1 -3.0 -4.0",
"897:1.5 0.8 0.0 -0.8 -1.7 -2.6 -3.6 -4.8 -5.8","900:2.1 1.4 0.6 -0.2 -1.1 -2.0 -3.0 -4.1","903:1.2 0.4 -0.4 -1.3 -2.2 -3.2 -4.4 -6.9","906:-12.1 0.9 0.1 -0.8 -1.7 -2.6 -3.6 -4.8",
"909:1.6 0.6 -0.2 -1.0 -1.9 -2.9 -4.0 -5.3","912:0.8 0.0 -0.9 -1.8 -2.8 -3.8 -5.0","915:8.4 6.1 2.5 1.4 0.4 -0.5 -1.4 -2.3 -3.3 -4.4","918:1.0 0.1 -0.7 -1.6 -2.6 -3.6 -4.7",
"921:0.5 -0.3 -1.2 -2.1 -3.1 -4.1 -5.3","924:1.3 0.2 -0.6 -1.5 -2.5 -3.5 -4.6 -6.1","927:-0.2 -1.0 -1.9 -2.9 -3.9 -5.0","930:0.6 -0.4 -1.3 -2.3 -3.3 -4.4 -5.7",
"933:-0.8 -1.7 -2.7 -3.7 -4.8 -6.2","936:1.7 1.3 -0.2 -1.1 -2.1 -3.1 -4.2 -5.4","939:-0.6 -1.5 -2.5 -3.5 -4.6 -5.8","942:0.8 -0.1 -1.0 -2.0 -3.0 -4.1 -5.3 -6.6",
"945:6.0 0.3 -0.6 -1.5 -2.5 -3.5 -4.7 -6.0","948:-0.4 -1.2 -2.1 -3.1 -4.2 -5.4","951:-0.9 -1.8 -2.8 -3.8 -4.9 -6.1","954:-0.1 -1.1 -2.0 -3.0 -4.1 -5.2 -6.4",
"957:-1.5 -2.4 -3.4 -4.5 -5.6 -6.8","960:-0.6 -1.6 -2.6 -3.6 -4.7 -5.9","963:-1.9 -2.9 -3.9 -5.0 -6.2","966:-1.0 -2.0 -3.0 -4.1 -5.3 -6.5","969:0.4 -0.5 -1.5 -2.5 -3.6 -4.8 -6.0",
"972:-0.9 -1.9 -2.9 -4.0 -5.2","975:-0.2 -1.3 -2.3 -3.4 -4.5 -5.7","978:0.6 -0.7 -1.7 -2.8 -3.9 -5.1 -6.4","981:-0.2 -1.1 -2.1 -3.2 -4.4 -5.6 -7.8 -8.6 -9.6",
"984:0.9 -0.5 -1.5 -2.6 -3.8 -5.0 -6.3 -8.1","987:0.3 -0.9 -2.0 -3.1 -4.3 -5.5","990:-0.3 -1.4 -2.5 -3.7 -4.9 -6.2 -10.5","993:0.6 -0.7 -1.8 -3.0 -4.2 -5.4",
"996:1.0 0.0 -1.1 -2.2 -3.4 -4.6","999:0.4 -0.6 -1.6 -2.8 -4.0","1002:1.6 0.9 0.1 -0.8 -1.8 -2.9 -4.1","1005:2.6 1.9 1.2 0.4 -0.5 -1.4 -2.4 -3.5",
"1008:2.2 1.5 0.7 -0.1 -1.0 -1.9 -2.9 -4.2","1011:1.8 1.0 0.2 -0.6 -1.5 -2.5 -3.6","1014:-10.4 2.0 1.3 0.5 -0.3 -1.2 -2.2 -3.3 -4.6","1017:1.6 0.8 -0.1 -1.0 -2.0 -3.1 -4.4",
"1020:2.3 1.2 0.4 -0.5 -1.5 -2.6 -3.8 -6.5","1023:1.0 0.1 -0.8 -1.8 -2.9 -4.1 -7.4 -8.6","1026:1.9 0.6 -0.3 -1.3 -2.4 -3.6 -5.0 -9.4","1029:1.4 0.3 -0.7 -1.8 -3.0 -4.3 -8.1 -9.7",
"1032:0.9 -0.1 -1.2 -2.4 -3.7 -5.1 -6.6","1035:0.2 -0.9 -2.1 -3.3 -4.6","1038:-0.5 -1.7 -3.0 -4.4 -7.0","1041:-1.3 -2.6 -4.0 -5.6 -9.3","1044:-0.8 -2.0 -3.4 -4.9 -6.3",
"1047:-0.5 -1.4 -2.3 -3.3 -4.3 -5.4 -6.7","1050:1.2 0.3 -0.7 -1.7 -2.7 -3.7 -4.8","1053:-11.4 -0.2 -1.1 -2.1 -3.1 -4.1 -5.2 -6.4","1056:0.1 -0.6 -1.5 -2.5 -3.5 -4.6 -5.8",
"1059:-1.0 -1.9 -2.9 -3.9 -5.0 -6.3","1062:-0.4 -1.3 -2.3 -3.3 -4.4 -5.6","1065:-0.8 -1.8 -2.8 -3.8 -4.9 -6.6","1068:-0.3 -1.2 -2.2 -3.2 -4.3 -5.5",
"1071:-10.5 -0.7 -1.6 -2.6 -3.6 -4.7 -5.9","1074:-8.2 -8.7 -9.1 -1.1 -2.1 -3.1 -4.2 -5.3","1077:0.2 -0.5 -1.5 -2.5 -3.5 -4.6","1080:0.8 -0.1 -1.0 -2.0 -3.0 -4.1 -5.2",
"1083:0.4 -0.4 -1.3 -2.3 -3.3 -4.4 -5.7","1086:0.1 -0.8 -1.7 -2.7 -3.8 -4.9","1089:0.6 -0.2 -1.1 -2.1 -3.1 -4.2 -5.4","1092:0.3 -0.6 -1.5 -2.5 -3.6 -4.8 -6.0",
"1095:0.9 0.0 -0.9 -1.9 -2.9 -4.0 -5.2","1098:1.7 1.2 0.5 -0.3 -1.3 -2.3 -3.4 -4.6","1101:0.3 -0.6 -1.6 -2.6 -3.7 -4.9 -6.2","1104:-0.1 -1.0 -2.0 -3.0 -4.1 -5.4 -6.6",
"1107:-0.5 -1.4 -2.4 -3.5 -4.7 -6.0","1110:-0.8 -1.8 -2.8 -3.9 -5.1 -6.5","1113:-1.2 -2.2 -3.3 -4.5 -5.7","1116:-7.4 -8.0 -8.5 -0.6 -1.6 -2.7 -3.9 -5.1",
"1119:-1.0 -2.0 -3.1 -4.3 -5.6","1122:-0.4 -1.4 -2.5 -3.7 -4.9","1125:-1.8 -2.9 -4.1 -5.2","1130:-0.2 -1.3 -2.6 -4.0","1133:4.1 3.2 2.6 2.2 1.7 1.2 -0.5 -3.4",
"1137:0.6 -0.8 -2.2 -3.5","1140:3.5 3.0 2.5 -0.9 -2.8","1144:-1.6 -2.9 -4.2","1148:-1.0 -2.1 -3.3 -4.6","1152:-2.5 -3.7","1156:-0.7 -1.5 -2.3 -3.2 -4.4",
"1160:-1.2 -2.8 -6.9 -7.6","1164:-0.9 -2.0 -3.3 -7.4 -8.3","1168:0.4 -1.2 -2.6 -4.0","1172:-1.8 -3.0 -4.1 -6.4","1176:-0.3 -1.5 -2.9 -4.3 -5.6","1180:-1.0 -2.2 -3.6",
"1184:-2.7 -4.0 -5.5 -6.7","1188:-0.6 -1.2 -3.1 -4.8","1191:1.0 -0.7 -2.3 -3.9 -5.5 -7.2 -8.7 -10.0","1194:-1.5 -3.0 -4.5 -6.1 -7.6 -9.3 -10.9 -12.2",
"1197:-13.9 -0.3 -2.0 -3.6 -5.2 -6.8 -8.3 -9.8","1200:1.0 -1.2 -2.8 -4.4 -6.0 -7.5 -9.0 -11.0","1203:1.7 0.5 -0.6 -2.2 -3.7 -5.3 -6.9 -8.5 -10.2",
"1206:-0.9 -2.5 -4.1 -5.7 -7.3 -8.8 -11.5","1209:0.2 -1.6 -3.3 -4.9 -6.5 -8.0 -9.6","1212:-1.0 -2.7 -4.3 -6.0 -7.7 -9.2","1215:3.5 2.5 -0.3 -2.0 -3.8 -5.5 -7.2 -8.9 -10.7",
"1218:-1.3 -3.1 -4.8 -6.6 -8.4 -11.9","1221:-9.0 -9.8 -10.6 -11.2 -0.5 -2.2","1224:-8.8 -9.6 -10.4 -11.6 -1.6","1227:0.8 -0.2 -9.3 -10.1 -11.0","1230:-0.8 -2.0 -9.7 -10.5",
"1233:0.9 -1.3 -3.0 -10.8 -11.6","1236:-10.5 -11.3 -12.0 -12.4 -0.6","1239:-2.5 -3.6 -4.4","1242:0.3 -0.9 -2.0 -3.1 -4.2 -5.4","1245:0.9 0.0 -0.8 -1.7 -2.7 -3.7 -4.8",
"1248:0.5 -0.3 -1.2 -2.1 -3.1 -4.1 -5.3","1251:0.9 0.2 -0.6 -1.5 -2.4 -3.4 -4.5 -5.8","1254:0.4 -0.4 -1.3 -2.2 -3.2 -4.3 -5.5","1257:0.7 -0.1 -1.0 -1.9 -2.9 -4.0 -5.2 -6.3",
"1260:0.3 -0.5 -1.4 -2.3 -3.3 -4.4 -5.6","1263:-0.2 -1.1 -2.0 -3.0 -4.1 -5.3 -6.5","1266:0.6 -0.3 -1.2 -2.1 -3.1 -4.2 -5.4","1269:0.2 -0.7 -1.6 -2.5 -3.5 -4.6 -5.9",
"1272:-0.4 -1.3 -2.2 -3.2 -4.3 -5.5","1275:0.5 -0.2 -1.1 -2.0 -3.0 -4.1 -5.2","1278:0.1 -0.8 -1.7 -2.7 -3.8 -4.9 -6.2","1281:-0.3 -1.2 -2.1 -3.1 -4.2 -5.4",
"1284:0.4 -0.5 -1.4 -2.4 -3.4 -4.5 -5.7","1287:0.0 -0.9 -1.8 -2.8 -3.9 -5.0","1290:-0.2 -1.1 -2.0 -3.0 -4.0 -5.2 -6.4","1293:0.3 -0.6 -1.5 -2.5 -3.6 -4.7",
"1296:-0.1 -1.0 -1.9 -2.9 -4.0 -5.1 -6.2","1299:0.6 -0.4 -1.3 -2.3 -3.3 -4.4 -5.6","1302:-0.8 -1.7 -2.7 -3.8 -4.9","1305:2.1 1.8 1.2 0.8 -0.5 -1.5 -2.5 -3.6 -4.8",
"1308:-0.2 -1.2 -2.2 -3.3 -4.4 -5.6","1311:0.3 -0.7 -1.7 -2.8 -3.9 -5.1","1314:-0.3 -1.3 -2.3 -3.4 -4.6 -5.8","1317:0.4 -0.5 -1.5 -2.6 -3.7 -4.9",
"1320:-0.1 -1.0 -2.0 -3.1 -4.3 -5.5 -6.8","1323:0.2 -0.8 -1.8 -2.9 -4.0 -5.2","1326:-0.4 -1.4 -2.4 -3.5 -4.7 -6.0","1329:0.0 -1.0 -2.1 -3.2 -4.4 -5.7",
"1332:-0.7 -1.7 -2.8 -3.9 -5.1 -6.4","1335:-0.2 -1.3 -2.4 -3.6 -4.9 -6.9 -7.8 -8.6 -9.3","1338:-1.0 -2.1 -3.3 -4.6 -6.0 -7.4","1341:0.3 -0.6 -1.7 -2.9 -4.2 -5.5 -7.1",
"1344:-0.4 -1.4 -2.6 -3.9 -5.3","1347:0.6 -0.2 -1.2 -2.4 -3.7 -5.1 -8.2 -9.0","1350:0.2 -0.9 -2.0 -3.2 -4.5 -9.8 -10.6 -11.3","1353:-0.5 -1.6 -2.8 -4.1 -7.6 -8.6 -12.2",
"1356:0.5 -0.3 -1.3 -2.5 -3.8 -9.4 -10.9","1359:-0.1 -1.0 -2.2 -3.5 -4.9 -13.3 -14.3","1362:0.7 -0.6 -1.8 -3.1 -4.5 -8.8 -10.0","1365:0.2 -1.3 -2.6 -4.0 -5.5",
"1368:1.8 1.0 0.2 -0.9 -2.3 -3.8 -5.4 -7.0","1371:1.3 0.4 -0.6 -1.8 -3.2 -4.7 -6.3 -8.0","1374:1.6 0.8 -0.2 -1.4 -2.7 -4.2 -5.8 -7.5 -9.0","1377:1.1 0.2 -0.9 -2.1 -3.5 -5.0 -6.6 -8.4",
"1380:0.6 -0.4 -1.6 -2.9 -4.3 -5.9 -7.7 -9.6","1383:1.4 0.0 -1.2 -2.5 -3.9 -5.5 -7.2 -9.1","1386:0.5 -0.7 -2.0 -3.4 -4.9 -6.6 -8.5 -10.6","1389:-0.3 -1.6 -3.0 -4.5 -6.2 -8.0 -10.0 -12.3",
"1392:1.9 1.2 -0.9 -2.3 -3.8 -5.5 -7.4 -9.5 -11.2 -13.0","1395:-0.6 -2.0 -3.5 -5.2 -7.0 -9.0 -11.4 -13.5","1398:0.3 -1.3 -2.8 -4.4 -6.2 -8.2 -10.4 -12.2 -14.5",
"1401:-0.8 -2.4 -4.0 -5.8 -7.8 -9.9 -12.9 -14.0","1404:0.0 -1.5 -3.1 -4.9 -6.8 -9.0 -11.7 -16.8","1407:-0.5 -2.0 -3.7 -5.5 -7.4 -10.5 -13.2","1410:0.5 -1.0 -2.6 -4.3 -6.1 -8.3",
"1413:-0.2 -1.4 -2.8 -4.2 -5.7 -7.4","1416:0.4 -0.8 -2.1 -3.5 -5.0 -6.5 -8.9","1419:0.9 -0.3 -1.5 -2.8 -4.2 -5.7","1422:0.3 -0.9 -2.1 -3.4 -4.8 -6.3 -9.6",
"1425:0.8 -0.1 -1.2 -2.4 -3.7 -5.1 -6.6","1428:1.2 0.4 -0.6 -1.7 -2.9 -4.2 -5.6","1431:0.7 -0.3 -1.3 -2.4 -3.6 -4.9 -6.3","1434:1.4 0.6 -0.4 -1.5 -2.6 -3.8 -5.2",
"1437:1.8 1.0 0.1 -0.9 -2.0 -3.2 -4.5 -5.9","1440:1.5 0.7 -0.2 -1.2 -2.3 -3.5 -4.9","1443:1.9 1.1 0.3 -0.7 -1.8 -3.0 -4.3 -5.7","1446:1.3 0.5 -0.4 -1.4 -2.5 -3.7 -5.1",
"1449:1.7 0.9 0.0 -1.0 -2.1 -3.3 -4.7 -6.2","1452:1.0 0.2 -0.7 -1.7 -2.8 -4.0 -5.4","1455:0.6 -0.3 -1.3 -2.4 -3.6 -4.9 -6.4","1458:-8.0 -0.9 -1.9 -3.0 -4.2 -5.5",
"1461:-0.4 -1.4 -2.4 -3.5 -4.7","1464:0.1 -0.8 -1.8 -2.9 -4.0 -5.2","1467:-0.5 -1.4 -2.4 -3.4 -4.5","1470:0.2 -0.7 -1.7 -2.7 -3.8 -4.9","1473:-0.3 -1.2 -2.2 -3.2 -4.3 -5.4",
"1476:0.4 -0.6 -1.5 -2.5 -3.6 -4.7","1479:-0.2 -1.1 -2.1 -3.1 -4.2","1482:0.5 -0.4 -1.4 -2.4 -3.5 -4.6 -5.3","1485:-0.1 -1.0 -2.0 -3.0 -4.1","1488:0.3 -0.6 -1.5 -2.5 -3.6 -4.8",
"1491:-0.4 -1.3 -2.3 -3.3 -4.4","1494:0.6 -0.2 -1.1 -2.1 -3.1 -4.2","1497:0.8 0.1 -0.8 -1.8 -2.8 -3.9 -5.0","1500:0.4 -0.5 -1.4 -2.4 -3.4 -4.5","1503:-0.1 -1.0 -2.0 -3.0 -4.1",
"1506:0.2 -0.7 -1.7 -2.7 -3.8 -4.9","1509:0.5 -0.3 -1.2 -2.2 -3.2","1512:-0.6 -1.5 -2.5 -3.5","1515:-1.0 -2.0 -3.0","1524:1.3 0.6 -0.2 -0.9 -1.6 -2.8 -3.9",
"1527:1.2 0.5 -0.3 -1.0 -1.5 -2.4","1530:0.4 -0.4 -1.2 -2.0 -2.8","1533:2.0 1.0 0.2 -0.6 -1.4 -2.3 -3.3","1536:0.5 -0.3 -1.1 -2.0 -2.9","1539:-0.2 -1.0 -1.9 -2.8 -3.8 -5.3",
"1542:-0.8 -1.7 -2.6 -4.9 -6.0","1545:0.0 -1.2 -2.2 -3.3 -5.6","1548:-0.6 -1.6 -2.6 -4.2 -6.9","1551:-0.2 -1.2 -2.3 -3.5","1554:-1.8 -2.8 -4.0 -5.5","1557:-0.9 -2.1 -3.4 -4.9",
"1560:0.5 -0.4 -1.5 -2.8 -4.3","1563:0.6 -1.0 -2.2 -3.6 -5.1"
];

// ---- drawing ----
const svg = d3.select("#chart");
const left = 78, right = 1206;
const x = d3.scaleLinear().domain([2002, 2006.29]).range([left, right]);

function toPoints(rows) {
  const pts = [];
  rows.forEach(row => {
    const [day, vals] = row.split(":");
    const t = 2002 + (+day) / 365.25;
    vals.trim().split(/\s+/).forEach(v => pts.push({ t, v: +v }));
  });
  return pts;
}

const panels = [
  { id: "g05", label: "PRN G05", passes: g05Passes, eclipses: g05Eclipses, top: 8, bottom: 230, labelX: 933, labelY: 35, topTicks: true, bottomTicks: false },
  { id: "g06", label: "PRN G06", passes: g06Passes, eclipses: g06Eclipses, top: 232, bottom: 455, labelX: 971, labelY: 259, topTicks: false, bottomTicks: true }
];

const defs = svg.append("defs");

panels.forEach(p => {
  const y = d3.scaleLinear().domain([-20, 10]).range([p.bottom, p.top]);
  const g = svg.append("g");

  defs.append("clipPath").attr("id", "clip-" + p.id)
    .append("rect").attr("x", left).attr("y", p.top).attr("width", right - left).attr("height", p.bottom - p.top);

  const inner = g.append("g").attr("clip-path", `url(#clip-${p.id})`);

  // dotted grid
  inner.append("g").selectAll("line").data(residualTicks).join("line")
    .attr("x1", left).attr("x2", right)
    .attr("y1", d => y(d)).attr("y2", d => y(d))
    .attr("stroke", "#c8c8c8").attr("stroke-width", 1).attr("stroke-dasharray", "1,2");
  inner.append("g").selectAll("line").data(yearTicks.slice(1)).join("line")
    .attr("x1", d => x(d)).attr("x2", d => x(d))
    .attr("y1", p.top).attr("y2", p.bottom)
    .attr("stroke", "#c8c8c8").attr("stroke-width", 1).attr("stroke-dasharray", "1,2");

  // eclipse seasons
  inner.append("g").selectAll("rect").data(p.eclipses).join("rect")
    .attr("x", d => x(d)).attr("width", d => x(d + eclipseLength) - x(d))
    .attr("y", p.top).attr("height", p.bottom - p.top)
    .attr("fill", "#cdcdcd");

  // residuals
  inner.append("g").selectAll("circle").data(toPoints(p.passes)).join("circle")
    .attr("cx", d => x(d.t)).attr("cy", d => y(d.v)).attr("r", 2.0)
    .attr("fill", "#000");

  // axes
  const fmt = d => String(d);
  const ya = g.append("g").attr("transform", `translate(${left},0)`)
    .call(d3.axisLeft(y).tickValues(residualTicks).tickSizeInner(-10).tickSizeOuter(0).tickPadding(11).tickFormat(fmt));
  const yr = g.append("g").attr("transform", `translate(${right},0)`)
    .call(d3.axisRight(y).tickValues(residualTicks).tickSizeInner(-10).tickSizeOuter(0).tickFormat(""));
  [ya, yr].forEach(a => {
    a.select(".domain").remove();
    a.selectAll("line").attr("stroke", "#333").attr("stroke-width", 1.2);
    a.selectAll("text").attr("font-size", 16).attr("fill", "#222")
      .attr("font-family", '"Liberation Sans", Arial, Helvetica, sans-serif');
  });

  if (p.topTicks) {
    const xt = g.append("g").attr("transform", `translate(0,${p.top})`)
      .call(d3.axisTop(x).tickValues(yearTicks.slice(1)).tickSizeInner(-10).tickSizeOuter(0).tickFormat(""));
    xt.select(".domain").remove();
    xt.selectAll("line").attr("stroke", "#333").attr("stroke-width", 1.2);
  }
  if (p.bottomTicks) {
    const xb = g.append("g").attr("transform", `translate(0,${p.bottom})`)
      .call(d3.axisBottom(x).tickValues(yearTicks).tickSizeInner(-10).tickSizeOuter(0).tickPadding(12).tickFormat(d3.format("d")));
    xb.select(".domain").remove();
    xb.selectAll("line").attr("stroke", "#333").attr("stroke-width", 1.2);
    xb.selectAll("text").attr("font-size", 17).attr("fill", "#222")
      .attr("font-family", '"Liberation Sans", Arial, Helvetica, sans-serif');
  }

  // frame
  g.append("rect").attr("x", left).attr("y", p.top).attr("width", right - left).attr("height", p.bottom - p.top)
    .attr("fill", "none").attr("stroke", "#333").attr("stroke-width", 1.6);

  // satellite label
  g.append("text").attr("x", p.labelX).attr("y", p.labelY).attr("font-size", 17).text(p.label);
});

// axis titles
svg.append("text").attr("x", (left + right) / 2 + 3).attr("y", 502).attr("text-anchor", "middle")
  .attr("font-size", 16).text("Year");
svg.append("text").attr("transform", `translate(25,${(8 + 455) / 2}) rotate(-90)`).attr("text-anchor", "middle")
  .attr("font-size", 16).text("SLR range residuals (cm)");
</script>
</body>
</html>
